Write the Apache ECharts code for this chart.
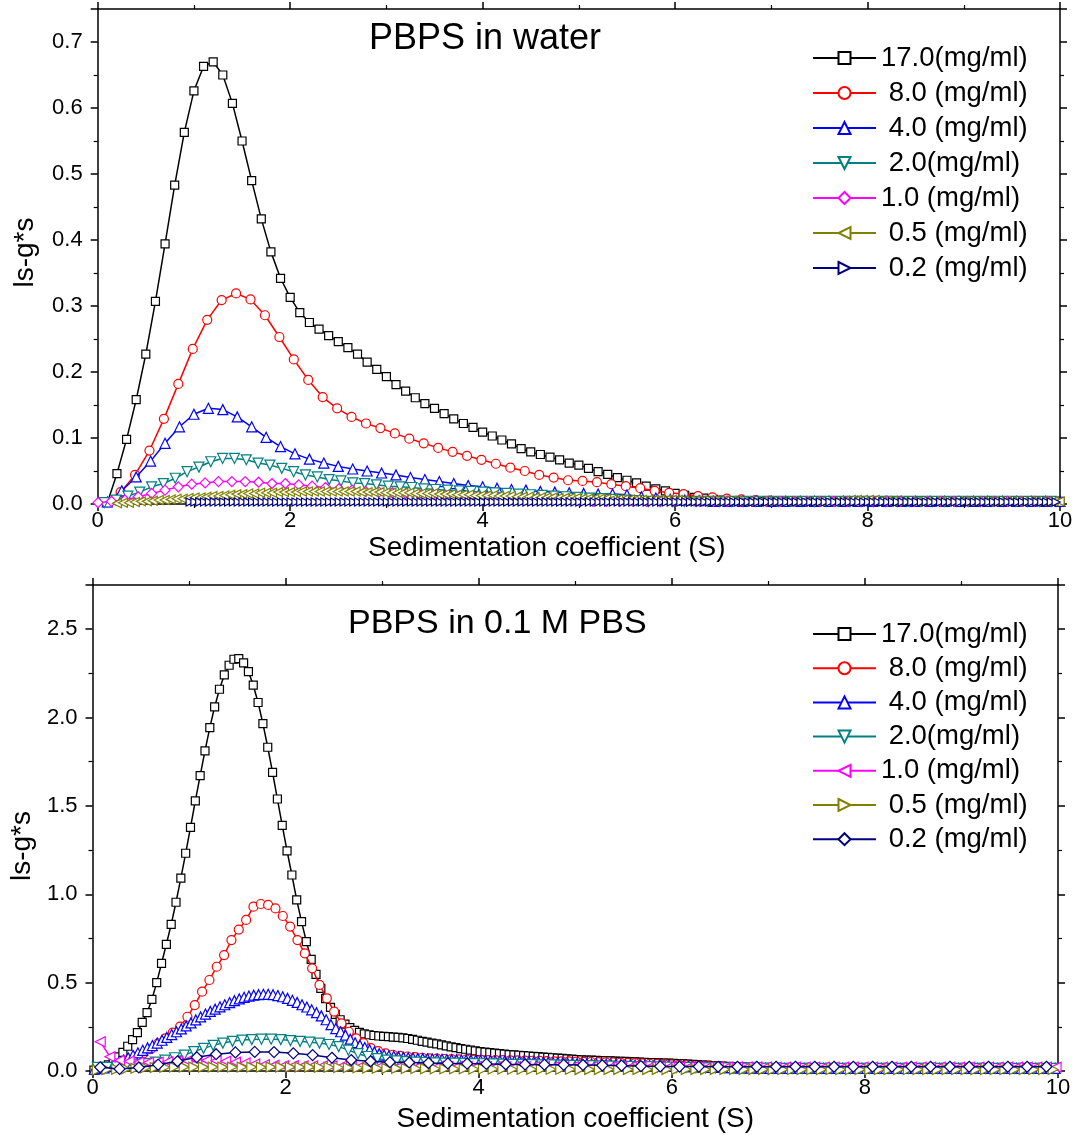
<!DOCTYPE html>
<html><head><meta charset="utf-8">
<script src="https://cdn.jsdelivr.net/npm/echarts@6/dist/echarts.min.js"></script>
<style>html,body{margin:0;padding:0;background:#fff}#c{width:1083px;height:1135px}</style>
</head><body><div id="c"></div>
<script>
// ---------- DATA ----------
const xTicks = [0, 2, 4, 6, 8, 10];
const topTitle = 'PBPS in water';
const botTitle = 'PBPS in 0.1 M PBS';
const xName = 'Sedimentation coefficient (S)';
const yName = 'ls-g*s';
const topNames = ['17.0(mg/ml)', ' 8.0 (mg/ml)', ' 4.0 (mg/ml)', ' 2.0(mg/ml)', '1.0 (mg/ml)', ' 0.5 (mg/ml)', ' 0.2 (mg/ml)'];
const botNames = ['17.0(mg/ml) ', ' 8.0 (mg/ml) ', ' 4.0 (mg/ml) ', ' 2.0(mg/ml) ', '1.0 (mg/ml) ', ' 0.5 (mg/ml) ', ' 0.2 (mg/ml) '];

// top panel: sampling start / step of x for each series
const topX0 = [0.1, 0.088, 0.1, 0.068, 0.004, 0.2, 0.96];
const topDx = [0.1, 0.15, 0.15, 0.123, 0.139, 0.062, 0.05];

const top17 = [0.002,0.046,0.098,0.158,0.227,0.307,0.394,0.483,0.563,0.626,
0.663,0.670,0.650,0.607,0.550,0.490,0.432,0.382,0.342,0.313,
0.290,0.275,0.265,0.255,0.246,0.237,0.227,0.215,0.204,0.193,
0.181,0.171,0.161,0.152,0.145,0.137,0.129,0.122,0.116,0.109,
0.103,0.097,0.091,0.084,0.079,0.075,0.071,0.067,0.062,0.059,
0.054,0.049,0.045,0.040,0.036,0.032,0.027,0.023,0.020,0.016,
0.013,0.010,0.009,0.007,0.006,0.005,0.004,0.004,0.004,0.004,
0.004,0.004,0.004,0.004,0.004,0.004,0.004,0.004,0.004,0.004,
0.004,0.004,0.004,0.004,0.004,0.004,0.004,0.004,0.004,0.004,
0.004,0.004,0.004,0.004,0.004,0.004,0.004,0.004,0.004,0.004];
const top8 = [0.003,0.018,0.044,0.081,0.129,0.182,0.235,0.279,0.309,0.319,
0.310,0.286,0.253,0.219,0.188,0.162,0.145,0.132,0.122,0.115,
0.107,0.099,0.092,0.085,0.079,0.073,0.067,0.061,0.055,0.050,
0.044,0.040,0.036,0.035,0.033,0.030,0.027,0.024,0.020,0.017,
0.015,0.012,0.010,0.008,0.007,0.006,0.005,0.004,0.004,0.004,
0.004,0.004,0.004,0.004,0.004,0.004,0.004,0.004,0.004,0.004,
0.004,0.004,0.004,0.004,0.004,0.004,0.004];
const top4 = [0.003,0.020,0.041,0.065,0.092,0.117,0.136,0.145,0.143,0.132,
0.117,0.101,0.087,0.076,0.068,0.062,0.057,0.053,0.050,0.047,
0.044,0.040,0.037,0.034,0.031,0.028,0.026,0.024,0.022,0.021,
0.019,0.018,0.017,0.016,0.015,0.015,0.014,0.011,0.009,0.007,
0.006,0.005,0.004,0.004,0.004,0.004,0.004,0.004,0.004,0.004,
0.004,0.004,0.004,0.004,0.004,0.004,0.004,0.004,0.004,0.004,
0.004,0.004,0.004,0.004,0.004,0.004,0.004];
const top2 = [0.002,0.006,0.012,0.018,0.026,0.031,0.039,0.049,0.056,0.064,
0.069,0.069,0.067,0.062,0.059,0.054,0.049,0.044,0.041,0.037,
0.035,0.032,0.031,0.029,0.027,0.026,0.025,0.023,0.022,0.021,
0.020,0.019,0.018,0.017,0.016,0.015,0.014,0.013,0.012,0.011,
0.010,0.009,0.008,0.007,0.006,0.005,0.004,0.004,0.004,0.004,
0.004,0.004,0.004,0.004,0.004,0.004,0.004,0.004,0.004,0.004,
0.004,0.004,0.004,0.004,0.004,0.004,0.004,0.004,0.004,0.004,
0.004,0.004,0.004,0.004,0.004,0.004,0.004,0.004,0.004,0.004,
0.004];
const top1 = [0.002,0.004,0.006,0.011,0.016,0.021,0.026,0.030,0.032,0.034,
0.034,0.034,0.033,0.031,0.031,0.029,0.027,0.025,0.023,0.021,
0.019,0.018,0.017,0.016,0.015,0.014,0.013,0.012,0.011,0.010,
0.009,0.008,0.008,0.007,0.006,0.006,0.005,0.004,0.004,0.004,
0.004,0.004,0.004,0.004,0.004,0.004,0.004,0.004,0.004,0.004,
0.004,0.004,0.004,0.004,0.004,0.004,0.004,0.004,0.004,0.004,
0.004,0.004,0.004,0.004,0.004,0.004,0.004,0.004,0.004,0.004,
0.004,0.004];
const top05 = [0.001,0.002,0.002,0.003,0.004,0.004,0.005,0.006,0.006,0.007,
0.008,0.008,0.009,0.010,0.010,0.011,0.012,0.012,0.013,0.014,
0.015,0.015,0.016,0.016,0.017,0.017,0.017,0.018,0.018,0.018,
0.018,0.019,0.019,0.019,0.019,0.019,0.019,0.019,0.019,0.019,
0.019,0.018,0.018,0.018,0.018,0.017,0.017,0.017,0.017,0.017,
0.016,0.016,0.016,0.016,0.015,0.015,0.015,0.014,0.014,0.014,
0.013,0.013,0.013,0.013,0.012,0.012,0.012,0.011,0.011,0.011,
0.010,0.010,0.010,0.010,0.009,0.009,0.009,0.009,0.008,0.008,
0.008,0.008,0.008,0.007,0.007,0.007,0.007,0.007,0.006,0.006,
0.006,0.006,0.006,0.006,0.006,0.005,0.005,0.005,0.005,0.005,
0.005,0.005,0.005,0.005,0.005,0.004,0.004,0.004,0.004,0.004,
0.004,0.004,0.004,0.004,0.004,0.004,0.004,0.004,0.004,0.004,
0.004,0.005,0.005,0.006,0.006,0.006,0.006,0.006,0.005,0.005,
0.005,0.004,0.004,0.004,0.004,0.004,0.004,0.004,0.004,0.004,
0.004,0.004,0.004,0.004,0.004,0.004,0.004,0.004,0.004,0.004,
0.004,0.004,0.004,0.004,0.004,0.004,0.004,0.004,0.004];
const top02 = [0.003,0.003,0.003,0.003,0.003,0.003,0.003,0.003,0.003,0.003,0.003,0.003,0.003,0.003,0.003,0.003,0.003,0.003,0.003,0.003,
0.003,0.003,0.003,0.003,0.003,0.003,0.003,0.003,0.003,0.003,0.003,0.003,0.003,0.003,0.003,0.003,0.003,0.003,0.003,0.003,
0.003,0.003,0.003,0.003,0.003,0.003,0.003,0.003,0.003,0.003,0.003,0.003,0.003,0.003,0.003,0.003,0.003,0.003,0.003,0.003,
0.003,0.003,0.003,0.003,0.003,0.003,0.003,0.003,0.003,0.003,0.003,0.003,0.003,0.003,0.003,0.003,0.003,0.003,0.003,0.003,
0.003,0.003,0.003,0.003,0.003,0.003,0.003,0.003,0.003,0.003,0.003,0.003,0.003,0.003,0.003,0.003,0.003,0.003,0.003,0.003,
0.003,0.003,0.003,0.003,0.003,0.003,0.003,0.003,0.003,0.003,0.003,0.003,0.003,0.003,0.003,0.003,0.003,0.003,0.003,0.003,
0.003,0.003,0.003,0.003,0.003,0.003,0.003,0.003,0.003,0.003,0.003,0.003,0.003,0.003,0.003,0.003,0.003,0.003,0.003,0.003,
0.003,0.003,0.003,0.003,0.003,0.003,0.003,0.003,0.003,0.003,0.003,0.003,0.003,0.003,0.003,0.003,0.003,0.003,0.003,0.003,
0.003,0.003,0.003,0.003,0.003,0.003,0.003,0.003,0.003,0.003,0.003,0.003,0.003,0.003,0.003,0.003,0.003,0.003,0.003,0.003,
0.003];

// bottom panel
const botX0 = [0.015, 0.071, 0.02, 0.05, 0.08, 0.05, 0.08];
const botDx = [0.05, 0.076, 0.05, 0.1, 0.1, 0.1, 0.2];

const bot17 = [0.005,0.010,0.020,0.035,0.055,0.080,0.105,0.140,0.178,0.217,
0.275,0.330,0.405,0.500,0.609,0.717,0.830,0.955,1.091,1.232,
1.379,1.528,1.671,1.811,1.943,2.060,2.160,2.241,2.296,2.330,
2.333,2.309,2.260,2.183,2.085,1.966,1.832,1.690,1.539,1.390,
1.245,1.109,0.968,0.845,0.732,0.632,0.547,0.468,0.410,0.360,
0.320,0.290,0.265,0.245,0.230,0.218,0.210,0.205,0.201,0.198,
0.196,0.194,0.192,0.190,0.187,0.184,0.179,0.174,0.168,0.163,
0.158,0.153,0.148,0.142,0.137,0.132,0.127,0.123,0.118,0.114,
0.110,0.107,0.104,0.101,0.098,0.096,0.093,0.091,0.089,0.087,
0.085,0.083,0.081,0.079,0.077,0.075,0.073,0.071,0.069,0.067,
0.065,0.063,0.062,0.061,0.060,0.059,0.058,0.057,0.056,0.055,
0.054,0.053,0.052,0.050,0.049,0.048,0.047,0.046,0.045,0.044,
0.043,0.042,0.041,0.039,0.037,0.036,0.034,0.033,0.031,0.029,
0.028,0.026,0.025,0.023,0.022,0.021,0.020,0.019,0.018,0.017,
0.016,0.016,0.016,0.016,0.016,0.016,0.016,0.016,0.016,0.016,
0.016,0.016,0.016,0.016,0.016,0.016,0.016,0.016,0.016,0.016,
0.015,0.015,0.015,0.015,0.015,0.015,0.015,0.015,0.015,0.015,
0.015,0.015,0.015,0.015,0.015,0.015,0.015,0.015,0.015,0.015,
0.015,0.015,0.015,0.015,0.015,0.015,0.015,0.015,0.015,0.015,
0.015,0.015,0.015,0.015,0.015,0.015,0.015,0.015,0.015,0.015];
const bot8 = [0.012,0.018,0.028,0.042,0.060,0.082,0.100,0.123,0.157,0.185,
0.217,0.251,0.307,0.373,0.449,0.515,0.590,0.656,0.741,0.800,
0.855,0.930,0.945,0.940,0.920,0.877,0.817,0.741,0.666,0.581,
0.487,0.411,0.336,0.270,0.222,0.185,0.157,0.130,0.112,0.100,
0.092,0.086,0.082,0.078,0.075,0.072,0.070,0.068,0.067,0.066,
0.065,0.064,0.063,0.062,0.062,0.061,0.060,0.060,0.059,0.058,
0.057,0.056,0.055,0.055,0.054,0.053,0.052,0.051,0.050,0.049,
0.048,0.047,0.046,0.044,0.043,0.041,0.040,0.038,0.037,0.035,
0.033,0.031,0.029,0.027,0.025,0.023,0.022,0.020,0.019,0.018,
0.017,0.016,0.016,0.016,0.016,0.016,0.016,0.016,0.016,0.016,
0.016,0.016,0.016,0.016,0.016,0.016,0.016,0.016,0.016,0.016,
0.016,0.016,0.016,0.016,0.016,0.016,0.016,0.016,0.016,0.016,
0.016,0.016,0.016,0.016,0.016,0.016,0.016,0.016,0.016,0.016,
0.016];
const bot4 = [0.010,0.013,0.018,0.025,0.034,0.047,0.062,0.075,0.089,0.103,
0.117,0.131,0.144,0.158,0.174,0.190,0.206,0.222,0.238,0.255,
0.272,0.289,0.306,0.322,0.337,0.350,0.363,0.375,0.387,0.398,
0.408,0.417,0.424,0.429,0.432,0.434,0.434,0.432,0.427,0.420,
0.411,0.400,0.388,0.375,0.362,0.346,0.330,0.312,0.290,0.262,
0.240,0.222,0.203,0.180,0.160,0.146,0.133,0.120,0.108,0.098,
0.090,0.086,0.083,0.080,0.077,0.075,0.073,0.071,0.070,0.069,
0.068,0.067,0.066,0.065,0.064,0.063,0.062,0.062,0.061,0.061,
0.060,0.059,0.059,0.058,0.058,0.057,0.056,0.056,0.055,0.054,
0.053,0.052,0.051,0.050,0.049,0.048,0.047,0.046,0.045,0.044,
0.043,0.042,0.041,0.040,0.040,0.039,0.038,0.037,0.036,0.035,
0.034,0.034,0.033,0.032,0.032,0.031,0.030,0.030,0.029,0.028,
0.028,0.027,0.026,0.025,0.025,0.024,0.023,0.022,0.021,0.020,
0.020,0.019,0.019,0.018,0.018,0.017,0.017,0.016,0.016,0.016,
0.015,0.015,0.015,0.015,0.015,0.015,0.015,0.015,0.015,0.015,
0.015,0.015,0.015,0.015,0.015,0.015,0.015,0.015,0.015,0.015,
0.015,0.015,0.015,0.015,0.015,0.015,0.015,0.015,0.015,0.015,
0.015,0.015,0.015,0.015,0.015,0.015,0.015,0.015,0.015,0.015,
0.015,0.015,0.015,0.015,0.015,0.015,0.015,0.015,0.015,0.015,
0.015,0.015,0.015,0.015,0.015,0.015,0.015,0.015,0.015,0.015];
const bot2 = [0.020,0.020,0.025,0.030,0.035,0.042,0.050,0.062,0.075,0.090,
0.110,0.128,0.145,0.158,0.168,0.175,0.178,0.180,0.180,0.178,
0.172,0.168,0.163,0.158,0.150,0.138,0.118,0.098,0.082,0.070,
0.062,0.057,0.053,0.050,0.048,0.046,0.045,0.044,0.043,0.042,
0.041,0.040,0.039,0.038,0.037,0.036,0.035,0.034,0.033,0.032,
0.031,0.030,0.029,0.028,0.027,0.026,0.025,0.024,0.023,0.022,
0.021,0.020,0.019,0.018,0.018,0.017,0.017,0.016,0.016,0.016,
0.015,0.015,0.015,0.015,0.015,0.015,0.015,0.015,0.015,0.015,
0.015,0.015,0.015,0.015,0.015,0.015,0.015,0.015,0.015,0.015,
0.015,0.015,0.015,0.015,0.015,0.015,0.015,0.015,0.015,0.015];
const bot1 = [0.166,0.081,0.060,0.055,0.050,0.048,0.050,0.052,0.055,0.058,
0.060,0.060,0.058,0.055,0.050,0.045,0.040,0.035,0.032,0.030,
0.030,0.029,0.029,0.028,0.028,0.027,0.027,0.027,0.026,0.026,
0.026,0.026,0.025,0.025,0.025,0.025,0.025,0.025,0.025,0.025,
0.024,0.024,0.024,0.024,0.024,0.024,0.024,0.024,0.024,0.024,
0.024,0.024,0.024,0.024,0.024,0.024,0.024,0.024,0.024,0.024,
0.023,0.023,0.023,0.023,0.023,0.023,0.023,0.023,0.023,0.023,
0.022,0.022,0.022,0.022,0.022,0.022,0.022,0.022,0.022,0.022,
0.022,0.022,0.022,0.022,0.022,0.022,0.022,0.022,0.022,0.022,
0.022,0.022,0.022,0.022,0.022,0.022,0.022,0.022,0.022,0.022];
const bot05 = [0.005,0.008,0.010,0.012,0.015,0.018,0.020,0.021,0.022,0.022,
0.022,0.022,0.022,0.022,0.022,0.022,0.022,0.022,0.022,0.022,
0.022,0.022,0.022,0.021,0.021,0.020,0.019,0.018,0.017,0.016,
0.015,0.015,0.014,0.014,0.013,0.013,0.012,0.012,0.012,0.011,
0.011,0.011,0.011,0.010,0.010,0.010,0.010,0.010,0.010,0.010,
0.009,0.009,0.009,0.009,0.009,0.009,0.009,0.009,0.009,0.009,
0.009,0.009,0.009,0.009,0.009,0.009,0.009,0.009,0.009,0.009,
0.008,0.008,0.008,0.008,0.008,0.008,0.008,0.008,0.008,0.008,
0.008,0.008,0.008,0.008,0.008,0.008,0.008,0.008,0.008,0.008,
0.008,0.008,0.008,0.008,0.008,0.008,0.008,0.008,0.008,0.008];
const bot02 = [0.021,0.012,0.020,0.036,0.055,0.078,0.095,0.105,0.108,0.107,
0.100,0.090,0.075,0.062,0.055,0.050,0.048,0.045,0.043,0.042,
0.040,0.038,0.037,0.036,0.035,0.034,0.032,0.030,0.028,0.026,
0.025,0.025,0.024,0.024,0.024,0.024,0.024,0.024,0.024,0.024,
0.024,0.024,0.024,0.024,0.024,0.024,0.024,0.024,0.024,0.024];

const topValues = [top17, top8, top4, top2, top1, top05, top02];
const botValues = [bot17, bot8, bot4, bot2, bot1, bot05, bot02];

// ---------- STYLE ----------
const FONT = 'Liberation Sans, Arial, Helvetica, sans-serif';
const SYM = {
  sq: 'rect', ci: 'circle', up: 'triangle',
  dn: 'path://M0,0L10,0L5,9Z',
  lf: 'path://M9,0L9,10L0,5Z',
  rt: 'path://M0,0L9,5L0,10Z',
  di: 'diamond'
};
const colors = ['#000000', '#ff0000', '#0000ff', '#008080', '#ff00ff', '#808000', '#000080'];
const topSym = [SYM.sq, SYM.ci, SYM.up, SYM.dn, SYM.di, SYM.lf, SYM.rt];
const topSize = [8, 9, 10, 10, 10, 9, 8];
const botSym = [SYM.sq, SYM.ci, SYM.up, SYM.dn, SYM.lf, SYM.rt, SYM.di];
const botSize = [8, 9, 10, 10, 10, 10, 11];

function pairs(x0, dx, ys) {
  return ys.map((y, i) => [Math.round((x0 + dx * i) * 10000) / 10000, y]);
}

function makeSeries(names, x0s, dxs, vals, syms, sizes, xi, yi) {
  return names.map((n, i) => ({
    name: n, type: 'line', xAxisIndex: xi, yAxisIndex: yi,
    data: pairs(x0s[i], dxs[i], vals[i]),
    symbol: syms[i], symbolSize: sizes[i], showSymbol: true,
    lineStyle: { color: colors[i], width: 1.5 },
    itemStyle: { color: '#ffffff', borderColor: colors[i], borderWidth: 1.2 },
    emphasis: { disabled: true }, animation: false, z: 2 + i
  }));
}

const TICKFS = 22;
const NAMEFS = 28;

function axisBase(extra) {
  return Object.assign({
    type: 'value',
    axisLine: { show: true, onZero: false, lineStyle: { color: '#000', width: 1.5 } },
    axisTick: { show: true, inside: false, length: 7, lineStyle: { color: '#000', width: 1.5 } },
    minorTick: { show: true, splitNumber: 2, length: 4, lineStyle: { color: '#000', width: 1.2 } },
    splitLine: { show: false }, minorSplitLine: { show: false },
    axisLabel: { show: false },
    nameTextStyle: { color: '#000', fontSize: NAMEFS, fontFamily: FONT }
  }, extra);
}

const grids = [
  { left: 97.7, right: 23, top: 9, bottom: 631 },
  { left: 92.5, right: 25, top: 585, bottom: 64 }
];

const xLabel = { show: true, color: '#000', fontSize: TICKFS, fontFamily: FONT, margin: 6 };
const fmt1 = v => v.toFixed(1);
const yLabel = { show: true, color: '#000', fontSize: TICKFS, fontFamily: FONT, margin: 15, formatter: fmt1, showMaxLabel: false };

const xAxes = [
  axisBase({ gridIndex: 0, position: 'bottom', min: 0, max: 10, interval: 2, axisLabel: xLabel,
    name: xName, nameLocation: 'middle', nameGap: 30,
    nameTextStyle: { color: '#000', fontSize: NAMEFS, fontFamily: FONT, padding: [0, 64, 0, 0] } }),
  axisBase({ gridIndex: 0, position: 'top', min: 0, max: 10, interval: 2 }),
  axisBase({ gridIndex: 1, position: 'bottom', min: 0, max: 10, interval: 2, axisLabel: xLabel,
    name: xName, nameLocation: 'middle', nameGap: 34 }),
  axisBase({ gridIndex: 1, position: 'top', min: 0, max: 10, interval: 2 })
];

const yAxes = [
  axisBase({ gridIndex: 0, position: 'left', min: 0, max: 0.75, interval: 0.1, axisLabel: yLabel,
    name: yName, nameLocation: 'middle', nameGap: 58,
    nameTextStyle: { color: '#000', fontSize: NAMEFS, fontFamily: FONT, padding: [0, 0, 0, 8] } }),
  axisBase({ gridIndex: 0, position: 'right', min: 0, max: 0.75, interval: 0.1 }),
  axisBase({ gridIndex: 1, position: 'left', min: 0, max: 2.75, interval: 0.5, axisLabel: yLabel,
    name: yName, nameLocation: 'middle', nameGap: 54,
    nameTextStyle: { color: '#000', fontSize: NAMEFS, fontFamily: FONT, padding: [0, 36, 0, 0] } }),
  axisBase({ gridIndex: 1, position: 'right', min: 0, max: 2.75, interval: 0.5 })
];

const legendBase = {
  orient: 'vertical', left: 812, itemWidth: 63, itemHeight: 15, padding: 0,
  selectedMode: false,
  textStyle: { color: '#000', fontSize: 27.5, lineHeight: 26, fontFamily: FONT }
};

const option = {
  backgroundColor: '#ffffff',
  animation: false,
  title: [
    { text: topTitle, left: 369, top: 21, padding: 0,
      textStyle: { color: '#000', fontSize: 36, fontWeight: 'normal', fontFamily: FONT } },
    { text: botTitle, left: 348, top: 607, padding: 0,
      textStyle: { color: '#000', fontSize: 34, fontWeight: 'normal', fontFamily: FONT } }
  ],
  legend: [
    Object.assign({}, legendBase, { top: 44, itemGap: 7, data: topNames }),
    Object.assign({}, legendBase, { top: 620, itemGap: 6.2, data: botNames })
  ],
  grid: grids,
  xAxis: xAxes,
  yAxis: yAxes,
  series: makeSeries(topNames, topX0, topDx, topValues, topSym, topSize, 0, 0)
    .concat(makeSeries(botNames, botX0, botDx, botValues, botSym, botSize, 2, 2))
};

const chart = echarts.init(document.getElementById('c'), null, { renderer: 'canvas' });
chart.setOption(option);
</script>
</body></html>
